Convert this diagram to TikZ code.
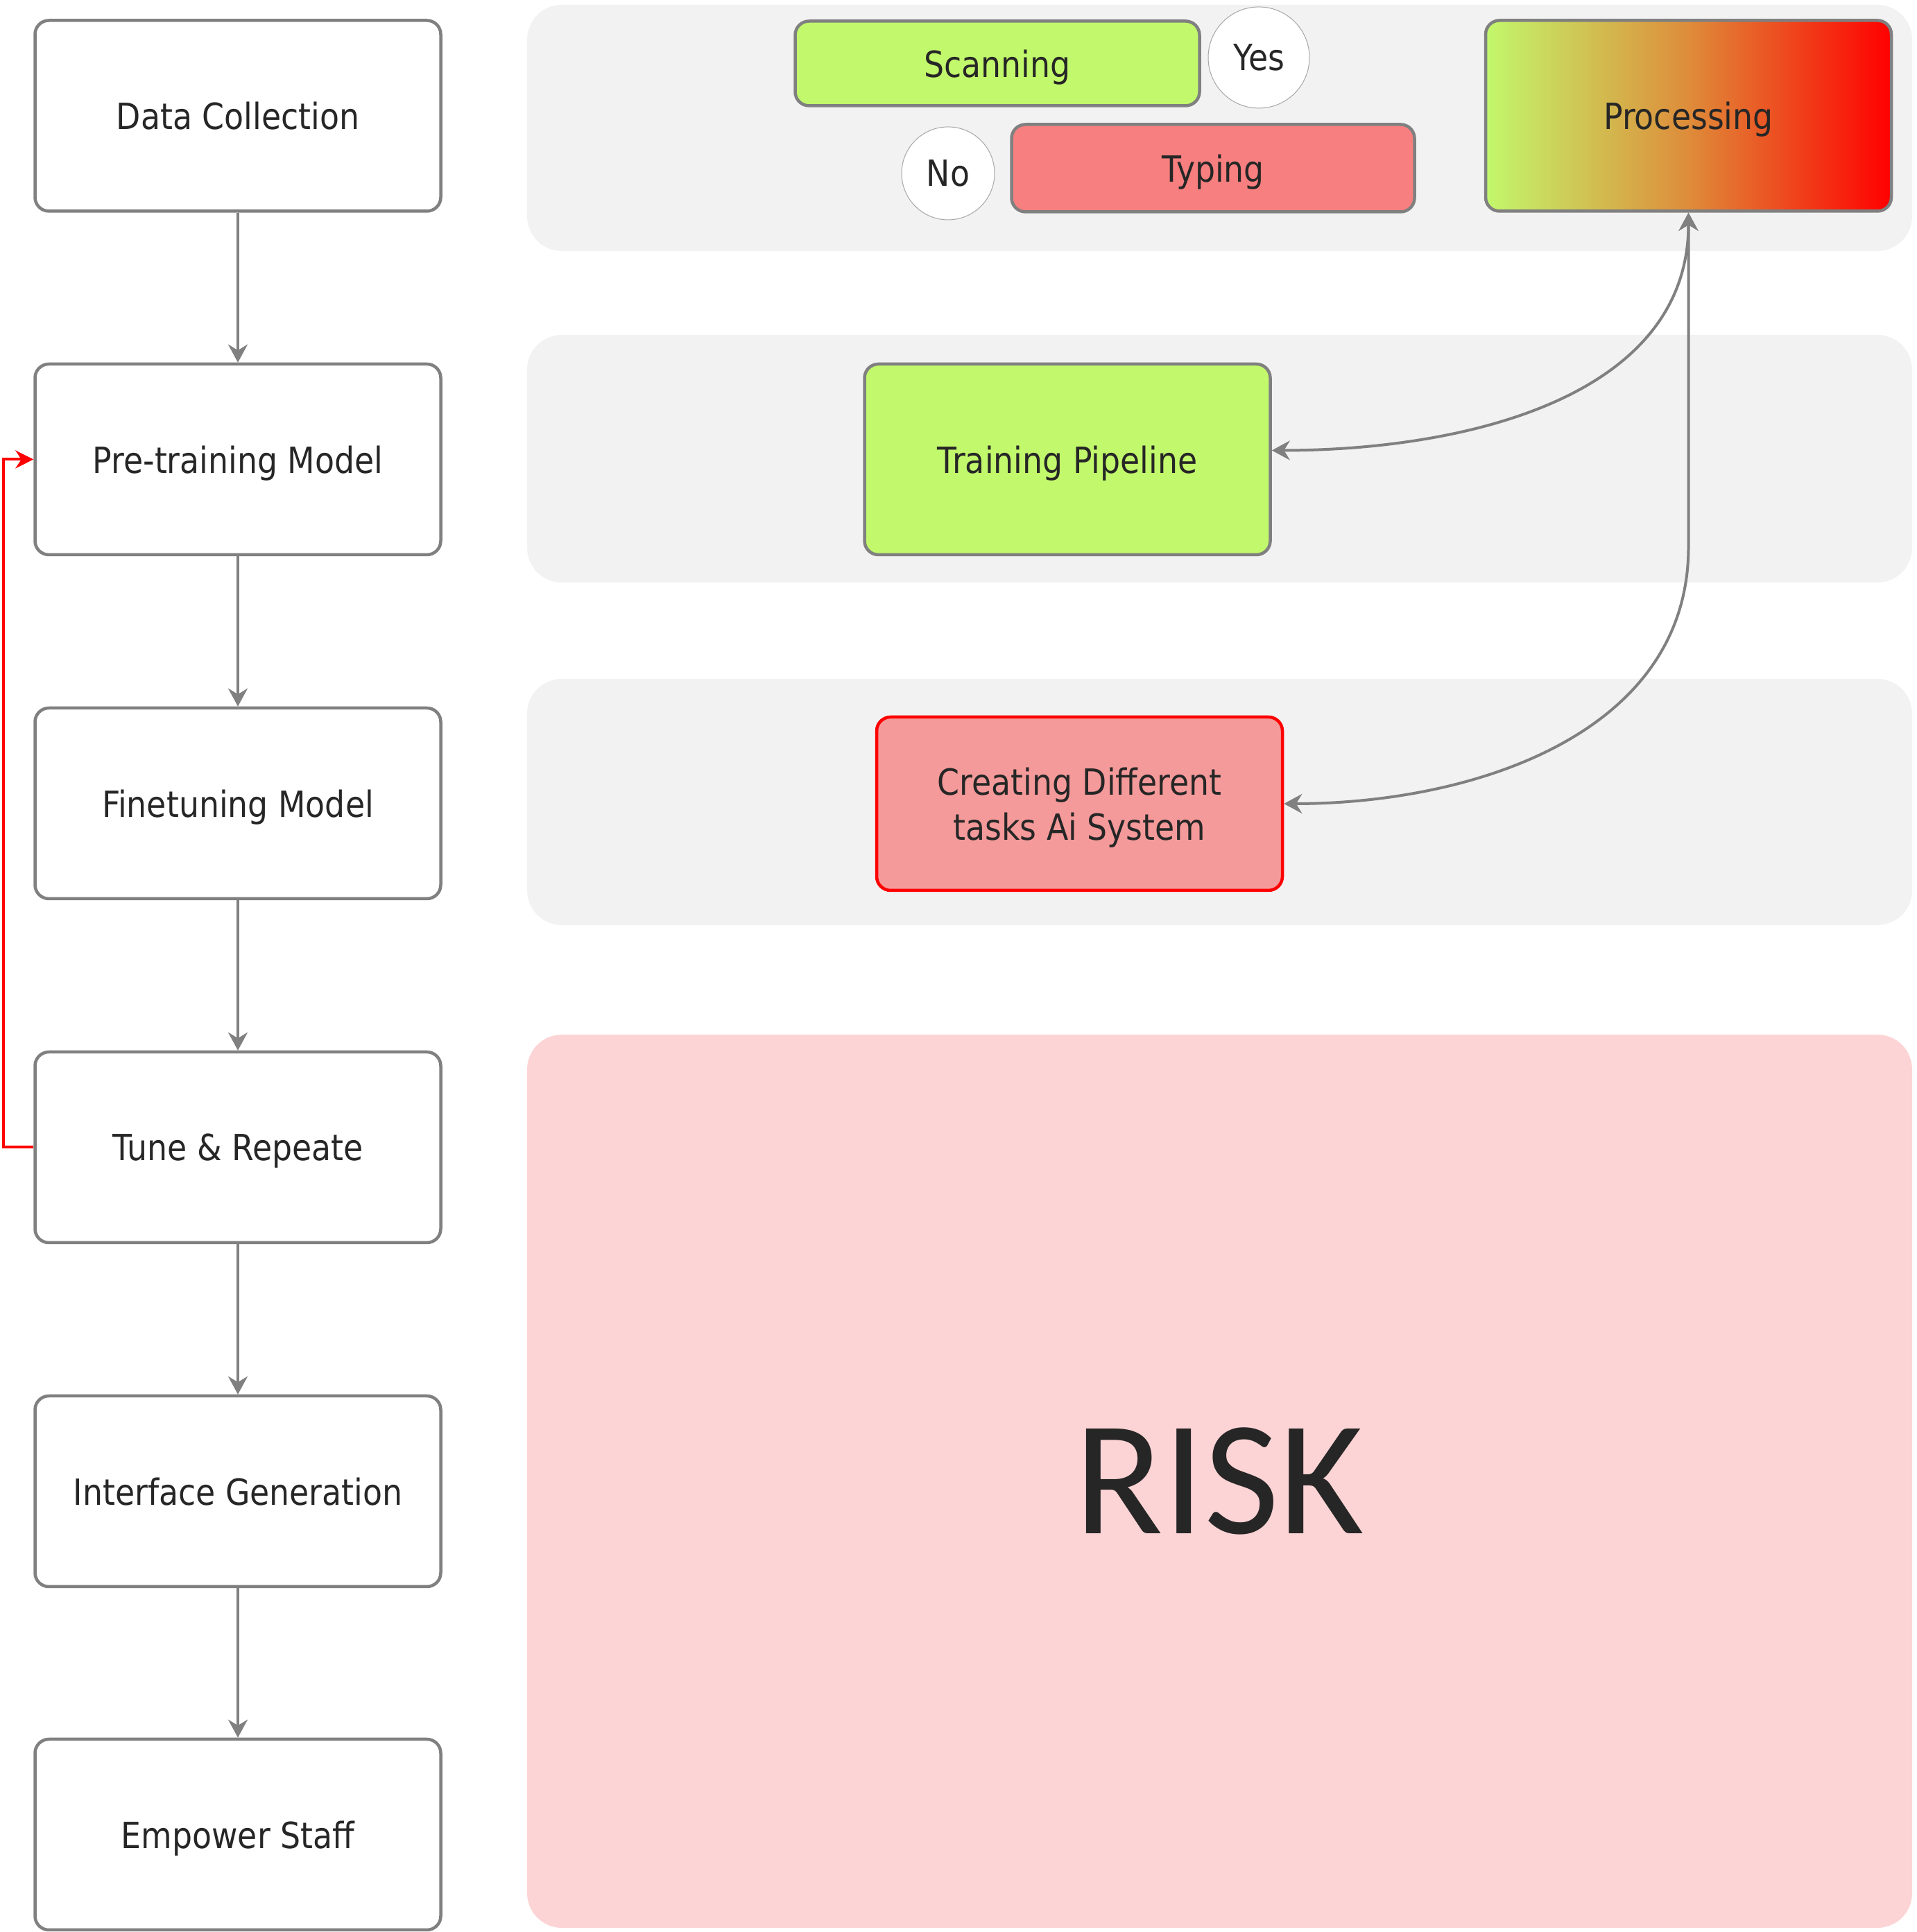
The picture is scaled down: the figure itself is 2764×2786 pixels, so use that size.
\documentclass[tikz,border=0pt]{standalone}
\usepackage{fontspec}
\setmainfont{DejaVu Sans}[FakeStretch=0.88]
\newfontfamily\riskfont{Carlito}
\usetikzlibrary{arrows.meta}
\definecolor{boxgray}{HTML}{808080}
\definecolor{panelgray}{HTML}{F2F2F2}
\definecolor{okgreen}{HTML}{C2F86C}
\definecolor{typered}{HTML}{F77F7F}
\definecolor{taskred}{HTML}{F59A9A}
\definecolor{riskpink}{HTML}{FDD4D5}
\definecolor{midorange}{HTML}{DE8C3A}
\definecolor{textdark}{HTML}{262626}

\begin{document}
\begin{tikzpicture}
[x=0.1mm, y=0.1mm, font=\fontsize{14.8pt}{18.5pt}\selectfont, text=textdark,
  stepdecorate/.style={shape=rectangle, draw=boxgray, line width=0.45mm,
    rounded corners=2mm, minimum width=58.5mm, minimum height=27.5mm, fill=white,
    text depth=0pt},
  panelback/.style={fill=panelgray, rounded corners=5mm},
  answerdecorate/.style={shape=circle, draw=boxgray!70, line width=0.1mm,
    fill=white, inner sep=0pt},
  linedecorate/.style={-{Stealth[length=2.6mm,width=2.8mm]}, draw=boxgray,
    line width=0.4mm},
  bothdecorate/.style={{Stealth[length=2.6mm,width=2.8mm]}-{Stealth[length=2.6mm,width=2.8mm]},
    draw=boxgray, line width=0.4mm},
  loopdecorate/.style={-{Stealth[length=2.6mm,width=2.6mm]}, draw=red,
    line width=0.4mm}]
\useasboundingbox (0,0) rectangle (2764,2786);
%% background panels
\fill[panelback] (760,2779) rectangle (2757,2424);
\fill[panelback] (760,2303) rectangle (2757,1946);
\fill[panelback] (760,1807) rectangle (2757,1452);
\node (risk) at (1758.5,650) [shape=rectangle, fill=riskpink, rounded corners=5mm,
  minimum width=199.7mm, minimum height=128.8mm, inner sep=0pt]
  {\riskfont\fontsize{67pt}{67pt}\selectfont RISK};
%% main steps
\foreach \nodename/\y/\txt in {dc/2619/Data Collection, pt/2123.5/Pre-training Model,
  ft/1627.5/Finetuning Model, tr/1131.5/Tune \& Repeate,
  ig/635.5/Interface Generation, es/140.5/Empower Staff}
{
  \node (\nodename) at (343,\y) [stepdecorate] {\txt};
}
%% right side boxes
\node (scan) at (1438,2694.5) [stepdecorate, fill=okgreen, minimum width=58.3mm,
  minimum height=12.2mm] {Scanning};
\node (yes) at (1815,2703) [answerdecorate, minimum size=14.6mm] {Yes};
\node (no) at (1367,2536) [answerdecorate, minimum size=13.4mm] {No};
\node (type) at (1749,2543.5) [stepdecorate, fill=typered, minimum width=58.1mm,
  minimum height=12.6mm] {Typing};
\node (proc) at (2434.5,2619) [stepdecorate, left color=okgreen, right color=red,
  middle color=midorange] {Processing};
\node (train) at (1539,2123.5) [stepdecorate, fill=okgreen] {Training Pipeline};
\node (task) at (1556.5,1627) [stepdecorate, draw=red, fill=taskred,
  minimum height=25mm, align=center] {Creating Different\\tasks Ai System};
%% edges or lines
\path
\foreach \startnode/\endnode in {dc/pt, pt/ft, ft/tr, tr/ig, ig/es} {
  (\startnode) edge[linedecorate] (\endnode)
};
\draw[loopdecorate] (tr.west) -- ++(-43,0) |- (pt.west);
\draw[bothdecorate] (proc.south) to[out=-90, in=0] ([yshift=1.3mm]train.east);
\draw[bothdecorate] (proc.south) -- ++(0,-482) to[out=-90, in=0] (task.east);
\end{tikzpicture}
\end{document}
